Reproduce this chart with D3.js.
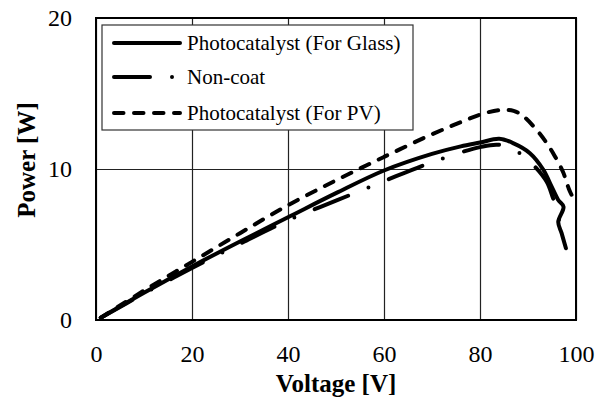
<!DOCTYPE html>
<html>
<head>
<meta charset="utf-8">
<script src="https://cdn.jsdelivr.net/npm/d3@7"></script>
<style>
  body { margin: 0; background: #fff; }
  svg text { font-family: "Liberation Serif", Tinos, "Times New Roman", Times, "DejaVu Serif", serif !important; fill: #000; }
</style>
</head>
<body>
<script>
// Screen dimensions.
const WIDTH = 608;
const HEIGHT = 400;
const margin = { left: 96, right: 32, top: 18, bottom: 80 };

// Data (Voltage [V], Power [W]).
const glassV = [1, 10, 20, 30, 40, 50, 60, 70, 76, 80, 84, 87, 90.4, 93.2, 94.9, 96.3, 97.4, 96.3, 97, 97.9];
const glassP = [0.15, 1.8, 3.55, 5.2, 6.8, 8.4, 9.9, 11.0, 11.5, 11.75, 12.0, 11.7, 11.05, 9.95, 8.85, 7.95, 7.5, 6.5, 5.75, 4.75];

const noncoatV = [1, 10, 20, 30, 40, 50, 60, 70, 80, 84, 88.3, 91, 93.9, 95.3, 96.3, 96.7, 98.1];
const noncoatP = [0.15, 1.75, 3.45, 5.05, 6.6, 7.9, 9.2, 10.45, 11.45, 11.6, 11.05, 10.3, 9.15, 8.0, 7.2, 6.4, 6.35];

const pvV = [1, 10, 20, 30, 40, 50, 60, 70, 76, 80, 84, 87, 89, 91.5, 93.5, 95.5, 97.3, 98.5, 99.8];
const pvP = [0.15, 1.95, 3.85, 5.75, 7.6, 9.25, 10.8, 12.3, 13.1, 13.6, 13.9, 13.85, 13.5, 12.7, 11.9, 10.9, 9.8, 8.7, 7.8];

const seriesNames = ["Photocatalyst (For Glass)", "Non-coat", "Photocatalyst (For PV)"];
const xTicks = [0, 20, 40, 60, 80, 100];
const yTicks = [0, 10, 20];

// Line styles, one for each series.
const dashes = [null, "36 22 0 22", "9.5 10.5"];

const series = [
  glassV.map((v, i) => [v, glassP[i]]),
  noncoatV.map((v, i) => [v, noncoatP[i]]),
  pvV.map((v, i) => [v, pvP[i]])
];

// SVG
const svg = d3.select("body").append("svg").attr("width", WIDTH).attr("height", HEIGHT);

const x = d3.scaleLinear().domain([0, 100]).range([margin.left, WIDTH - margin.right]);
const y = d3.scaleLinear().domain([0, 20]).range([HEIGHT - margin.bottom, margin.top]);

// Gridlines
svg.append("g")
  .attr("transform", `translate(0,${y(0)})`)
  .call(d3.axisBottom(x).tickValues(xTicks).tickSize(-(y(0) - y(20))).tickFormat(""))
  .call(g => g.select(".domain").remove())
  .call(g => g.selectAll("line").attr("stroke", "#222").attr("stroke-width", 1.2));

svg.append("g")
  .attr("transform", `translate(${x(0)},0)`)
  .call(d3.axisLeft(y).tickValues(yTicks).tickSize(-(x(100) - x(0))).tickFormat(""))
  .call(g => g.select(".domain").remove())
  .call(g => g.selectAll("line").attr("stroke", "#222").attr("stroke-width", 1.2));

// Tick labels
svg.append("g")
  .attr("transform", `translate(0,${y(0)})`)
  .call(d3.axisBottom(x).tickValues(xTicks).tickSize(0).tickPadding(25))
  .call(g => g.select(".domain").remove())
  .call(g => g.selectAll("text").attr("font-size", 24));

svg.append("g")
  .attr("transform", `translate(${x(0)},0)`)
  .call(d3.axisLeft(y).tickValues(yTicks).tickSize(0).tickPadding(24))
  .call(g => g.select(".domain").remove())
  .call(g => g.selectAll("text").attr("font-size", 24));

// Curves
const line = d3.line()
  .x(d => x(d[0]))
  .y(d => y(d[1]))
  .curve(d3.curveCatmullRom.alpha(0.5));

svg.append("g").selectAll("path").data(series).enter().append("path")
  .attr("d", line)
  .attr("fill", "none")
  .attr("stroke", "#000")
  .attr("stroke-width", 4)
  .attr("stroke-linecap", "round")
  .attr("stroke-linejoin", "round")
  .attr("stroke-dasharray", (d, i) => dashes[i]);

// Plot border
svg.append("rect")
  .attr("x", x(0)).attr("y", y(20))
  .attr("width", x(100) - x(0)).attr("height", y(0) - y(20))
  .attr("fill", "none").attr("stroke", "#000").attr("stroke-width", 2);

// Legend
const legend = svg.append("g").attr("transform", "translate(102,25)");
legend.append("rect")
  .attr("width", 311).attr("height", 105)
  .attr("fill", "#fff").attr("stroke", "#333").attr("stroke-width", 1.2);

const rows = legend.selectAll("g.row").data(seriesNames).enter().append("g")
  .attr("class", "row")
  .attr("transform", (d, i) => `translate(0,${[18, 52, 88][i]})`);

rows.append("line")
  .attr("x1", 12).attr("x2", 78)
  .attr("stroke", "#000").attr("stroke-width", 4)
  .attr("stroke-linecap", "round")
  .attr("stroke-dasharray", (d, i) => dashes[i]);

rows.append("text")
  .attr("x", 85).attr("y", 7)
  .attr("font-size", 21)
  .text(d => d);

// Axis titles
svg.append("text")
  .attr("x", (x(0) + x(100)) / 2).attr("y", 392)
  .attr("text-anchor", "middle")
  .attr("font-size", 25).attr("font-weight", "bold")
  .text("Voltage [V]");

svg.append("text")
  .attr("transform", "translate(35,160) rotate(-90)")
  .attr("text-anchor", "middle")
  .attr("font-size", 25).attr("font-weight", "bold")
  .text("Power [W]");
</script>
</body>
</html>
